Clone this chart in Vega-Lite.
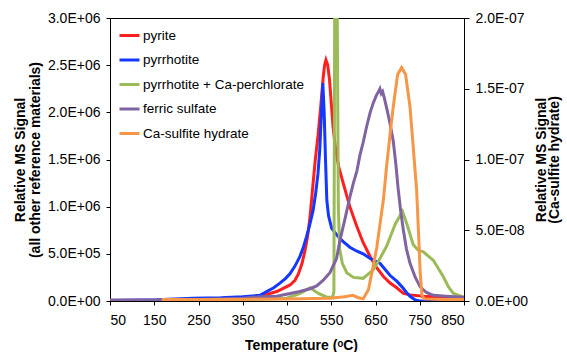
{
  "$schema": "https://vega.github.io/schema/vega-lite/v6.json",
  "width": 354,
  "height": 283,
  "autosize": {"type": "none"},
  "padding": {"left": 110, "top": 18, "right": 103, "bottom": 51},
  "background": "white",
  "config": {
    "view": {"stroke": "black", "strokeWidth": 1},
    "font": "Liberation Sans",
    "axis": {
      "domainColor": "black", "tickColor": "black", "labelColor": "black", "titleColor": "black",
      "labelFont": "Liberation Sans", "titleFont": "Liberation Sans",
      "labelFontSize": 14, "titleFontSize": 14, "titleFontWeight": "bold",
      "grid": false, "tickSize": 4, "domainWidth": 1, "tickWidth": 1
    },
    "legend": {"labelFont": "Liberation Sans", "labelFontSize": 13.5, "labelColor": "black", "labelLimit": 0}
  },
  "datasets": {
    "left": [
      {"series": "pyrite", "T": 50, "v": 0}, {"series": "pyrite", "T": 150, "v": 5000}, {"series": "pyrite", "T": 250, "v": 12000}, {"series": "pyrite", "T": 350, "v": 30000}, {"series": "pyrite", "T": 396, "v": 60000}, {"series": "pyrite", "T": 427, "v": 100000}, {"series": "pyrite", "T": 457, "v": 170000}, {"series": "pyrite", "T": 468, "v": 220000}, {"series": "pyrite", "T": 476, "v": 290000}, {"series": "pyrite", "T": 484, "v": 400000}, {"series": "pyrite", "T": 491, "v": 540000}, {"series": "pyrite", "T": 497, "v": 700000}, {"series": "pyrite", "T": 502, "v": 890000}, {"series": "pyrite", "T": 508, "v": 1200000}, {"series": "pyrite", "T": 514, "v": 1500000}, {"series": "pyrite", "T": 520, "v": 1750000}, {"series": "pyrite", "T": 526, "v": 2050000}, {"series": "pyrite", "T": 532, "v": 2380000}, {"series": "pyrite", "T": 535, "v": 2500000}, {"series": "pyrite", "T": 538, "v": 2555000}, {"series": "pyrite", "T": 542, "v": 2500000}, {"series": "pyrite", "T": 546, "v": 2350000}, {"series": "pyrite", "T": 550, "v": 2100000}, {"series": "pyrite", "T": 554, "v": 1850000}, {"series": "pyrite", "T": 560, "v": 1600000}, {"series": "pyrite", "T": 567, "v": 1420000}, {"series": "pyrite", "T": 577, "v": 1250000}, {"series": "pyrite", "T": 592, "v": 1000000}, {"series": "pyrite", "T": 607, "v": 800000}, {"series": "pyrite", "T": 622, "v": 620000}, {"series": "pyrite", "T": 638, "v": 470000}, {"series": "pyrite", "T": 653, "v": 350000}, {"series": "pyrite", "T": 668, "v": 260000}, {"series": "pyrite", "T": 683, "v": 190000}, {"series": "pyrite", "T": 698, "v": 140000}, {"series": "pyrite", "T": 713, "v": 80000}, {"series": "pyrite", "T": 728, "v": 65000}, {"series": "pyrite", "T": 758, "v": 50000}, {"series": "pyrite", "T": 800, "v": 40000}, {"series": "pyrite", "T": 850, "v": 30000},
      {"series": "pyrrhotite", "T": 50, "v": 5000}, {"series": "pyrrhotite", "T": 155, "v": 12000}, {"series": "pyrrhotite", "T": 238, "v": 30000}, {"series": "pyrrhotite", "T": 300, "v": 35000}, {"series": "pyrrhotite", "T": 350, "v": 45000}, {"series": "pyrrhotite", "T": 389, "v": 60000}, {"series": "pyrrhotite", "T": 404, "v": 100000}, {"series": "pyrrhotite", "T": 420, "v": 140000}, {"series": "pyrrhotite", "T": 434, "v": 190000}, {"series": "pyrrhotite", "T": 447, "v": 240000}, {"series": "pyrrhotite", "T": 457, "v": 290000}, {"series": "pyrrhotite", "T": 468, "v": 370000}, {"series": "pyrrhotite", "T": 479, "v": 470000}, {"series": "pyrrhotite", "T": 487, "v": 570000}, {"series": "pyrrhotite", "T": 494, "v": 680000}, {"series": "pyrrhotite", "T": 502, "v": 820000}, {"series": "pyrrhotite", "T": 509, "v": 960000}, {"series": "pyrrhotite", "T": 515, "v": 1150000}, {"series": "pyrrhotite", "T": 520, "v": 1350000}, {"series": "pyrrhotite", "T": 524, "v": 1600000}, {"series": "pyrrhotite", "T": 527, "v": 1920000}, {"series": "pyrrhotite", "T": 531, "v": 2310000}, {"series": "pyrrhotite", "T": 534, "v": 2000000}, {"series": "pyrrhotite", "T": 537, "v": 1500000}, {"series": "pyrrhotite", "T": 540, "v": 1070000}, {"series": "pyrrhotite", "T": 544, "v": 900000}, {"series": "pyrrhotite", "T": 551, "v": 770000}, {"series": "pyrrhotite", "T": 566, "v": 680000}, {"series": "pyrrhotite", "T": 577, "v": 630000}, {"series": "pyrrhotite", "T": 592, "v": 570000}, {"series": "pyrrhotite", "T": 607, "v": 530000}, {"series": "pyrrhotite", "T": 622, "v": 500000}, {"series": "pyrrhotite", "T": 638, "v": 450000}, {"series": "pyrrhotite", "T": 660, "v": 400000}, {"series": "pyrrhotite", "T": 683, "v": 270000}, {"series": "pyrrhotite", "T": 698, "v": 210000}, {"series": "pyrrhotite", "T": 710, "v": 150000}, {"series": "pyrrhotite", "T": 720, "v": 90000}, {"series": "pyrrhotite", "T": 728, "v": 50000}, {"series": "pyrrhotite", "T": 740, "v": 10000}, {"series": "pyrrhotite", "T": 750, "v": 0}, {"series": "pyrrhotite", "T": 850, "v": 0},
      {"series": "pyrrhotite + Ca-perchlorate", "T": 50, "v": 0}, {"series": "pyrrhotite + Ca-perchlorate", "T": 400, "v": 20000}, {"series": "pyrrhotite + Ca-perchlorate", "T": 449, "v": 30000}, {"series": "pyrrhotite + Ca-perchlorate", "T": 480, "v": 80000}, {"series": "pyrrhotite + Ca-perchlorate", "T": 502, "v": 140000}, {"series": "pyrrhotite + Ca-perchlorate", "T": 521, "v": 80000}, {"series": "pyrrhotite + Ca-perchlorate", "T": 540, "v": 40000}, {"series": "pyrrhotite + Ca-perchlorate", "T": 553, "v": 40000}, {"series": "pyrrhotite + Ca-perchlorate", "T": 556, "v": 100000}, {"series": "pyrrhotite + Ca-perchlorate", "T": 558, "v": 3500000}, {"series": "pyrrhotite + Ca-perchlorate", "T": 563, "v": 3500000}, {"series": "pyrrhotite + Ca-perchlorate", "T": 566, "v": 1000000}, {"series": "pyrrhotite + Ca-perchlorate", "T": 569, "v": 550000}, {"series": "pyrrhotite + Ca-perchlorate", "T": 575, "v": 400000}, {"series": "pyrrhotite + Ca-perchlorate", "T": 585, "v": 300000}, {"series": "pyrrhotite + Ca-perchlorate", "T": 600, "v": 250000}, {"series": "pyrrhotite + Ca-perchlorate", "T": 622, "v": 240000}, {"series": "pyrrhotite + Ca-perchlorate", "T": 645, "v": 330000}, {"series": "pyrrhotite + Ca-perchlorate", "T": 660, "v": 450000}, {"series": "pyrrhotite + Ca-perchlorate", "T": 675, "v": 580000}, {"series": "pyrrhotite + Ca-perchlorate", "T": 695, "v": 820000}, {"series": "pyrrhotite + Ca-perchlorate", "T": 711, "v": 950000}, {"series": "pyrrhotite + Ca-perchlorate", "T": 722, "v": 800000}, {"series": "pyrrhotite + Ca-perchlorate", "T": 735, "v": 600000}, {"series": "pyrrhotite + Ca-perchlorate", "T": 746, "v": 540000}, {"series": "pyrrhotite + Ca-perchlorate", "T": 758, "v": 520000}, {"series": "pyrrhotite + Ca-perchlorate", "T": 781, "v": 430000}, {"series": "pyrrhotite + Ca-perchlorate", "T": 803, "v": 260000}, {"series": "pyrrhotite + Ca-perchlorate", "T": 815, "v": 150000}, {"series": "pyrrhotite + Ca-perchlorate", "T": 826, "v": 80000}, {"series": "pyrrhotite + Ca-perchlorate", "T": 850, "v": 40000},
      {"series": "ferric sulfate", "T": 50, "v": 10000}, {"series": "ferric sulfate", "T": 150, "v": 10000}, {"series": "ferric sulfate", "T": 250, "v": 15000}, {"series": "ferric sulfate", "T": 350, "v": 30000}, {"series": "ferric sulfate", "T": 389, "v": 45000}, {"series": "ferric sulfate", "T": 427, "v": 50000}, {"series": "ferric sulfate", "T": 457, "v": 80000}, {"series": "ferric sulfate", "T": 479, "v": 100000}, {"series": "ferric sulfate", "T": 502, "v": 130000}, {"series": "ferric sulfate", "T": 517, "v": 160000}, {"series": "ferric sulfate", "T": 532, "v": 220000}, {"series": "ferric sulfate", "T": 547, "v": 300000}, {"series": "ferric sulfate", "T": 562, "v": 450000}, {"series": "ferric sulfate", "T": 570, "v": 650000}, {"series": "ferric sulfate", "T": 580, "v": 850000}, {"series": "ferric sulfate", "T": 592, "v": 1100000}, {"series": "ferric sulfate", "T": 600, "v": 1250000}, {"series": "ferric sulfate", "T": 608, "v": 1380000}, {"series": "ferric sulfate", "T": 615, "v": 1550000}, {"series": "ferric sulfate", "T": 622, "v": 1680000}, {"series": "ferric sulfate", "T": 630, "v": 1850000}, {"series": "ferric sulfate", "T": 638, "v": 2000000}, {"series": "ferric sulfate", "T": 645, "v": 2100000}, {"series": "ferric sulfate", "T": 652, "v": 2180000}, {"series": "ferric sulfate", "T": 657, "v": 2220000}, {"series": "ferric sulfate", "T": 660, "v": 2250000}, {"series": "ferric sulfate", "T": 663, "v": 2200000}, {"series": "ferric sulfate", "T": 666, "v": 2220000}, {"series": "ferric sulfate", "T": 670, "v": 2150000}, {"series": "ferric sulfate", "T": 675, "v": 2050000}, {"series": "ferric sulfate", "T": 682, "v": 1900000}, {"series": "ferric sulfate", "T": 690, "v": 1700000}, {"series": "ferric sulfate", "T": 696, "v": 1450000}, {"series": "ferric sulfate", "T": 701, "v": 1200000}, {"series": "ferric sulfate", "T": 707, "v": 950000}, {"series": "ferric sulfate", "T": 713, "v": 750000}, {"series": "ferric sulfate", "T": 720, "v": 550000}, {"series": "ferric sulfate", "T": 728, "v": 400000}, {"series": "ferric sulfate", "T": 740, "v": 250000}, {"series": "ferric sulfate", "T": 751, "v": 150000}, {"series": "ferric sulfate", "T": 765, "v": 90000}, {"series": "ferric sulfate", "T": 781, "v": 60000}, {"series": "ferric sulfate", "T": 810, "v": 50000}, {"series": "ferric sulfate", "T": 850, "v": 40000}
    ],
    "right": [
      {"series": "Ca-sulfite hydrate", "T": 167, "v": 1e-9}, {"series": "Ca-sulfite hydrate", "T": 300, "v": 1e-9}, {"series": "Ca-sulfite hydrate", "T": 450, "v": 1.5e-9}, {"series": "Ca-sulfite hydrate", "T": 547, "v": 2e-9}, {"series": "Ca-sulfite hydrate", "T": 580, "v": 3e-9}, {"series": "Ca-sulfite hydrate", "T": 599, "v": 4e-9}, {"series": "Ca-sulfite hydrate", "T": 610, "v": 2.5e-9}, {"series": "Ca-sulfite hydrate", "T": 622, "v": 1.5e-9}, {"series": "Ca-sulfite hydrate", "T": 634, "v": 8e-9}, {"series": "Ca-sulfite hydrate", "T": 645, "v": 2.5e-8}, {"series": "Ca-sulfite hydrate", "T": 653, "v": 3.8e-8}, {"series": "Ca-sulfite hydrate", "T": 668, "v": 7.2e-8}, {"series": "Ca-sulfite hydrate", "T": 675, "v": 9.5e-8}, {"series": "Ca-sulfite hydrate", "T": 683, "v": 1.18e-7}, {"series": "Ca-sulfite hydrate", "T": 690, "v": 1.37e-7}, {"series": "Ca-sulfite hydrate", "T": 700, "v": 1.6e-7}, {"series": "Ca-sulfite hydrate", "T": 709, "v": 1.65e-7}, {"series": "Ca-sulfite hydrate", "T": 718, "v": 1.6e-7}, {"series": "Ca-sulfite hydrate", "T": 728, "v": 1.37e-7}, {"series": "Ca-sulfite hydrate", "T": 735, "v": 1.1e-7}, {"series": "Ca-sulfite hydrate", "T": 743, "v": 7.8e-8}, {"series": "Ca-sulfite hydrate", "T": 747, "v": 5e-8}, {"series": "Ca-sulfite hydrate", "T": 751, "v": 2e-8}, {"series": "Ca-sulfite hydrate", "T": 755, "v": 4e-9}, {"series": "Ca-sulfite hydrate", "T": 760, "v": 1.5e-9}, {"series": "Ca-sulfite hydrate", "T": 800, "v": 1e-9}, {"series": "Ca-sulfite hydrate", "T": 850, "v": 1e-9}
    ]
  },
  "layer": [
    {
      "data": {"name": "left"},
      "mark": {"type": "line", "strokeWidth": 3, "clip": true},
      "encoding": {
        "x": {
          "field": "T", "type": "quantitative",
          "scale": {"domain": [50, 850], "nice": false, "zero": false},
          "axis": {
            "values": [50, 100, 150, 200, 250, 300, 350, 400, 450, 500, 550, 600, 650, 700, 750, 800, 850],
            "labelExpr": "(datum.value - 50) % 100 == 0 ? datum.label : ''",
            "labelPadding": 8,
            "title": "Temperature (ᵒC)",
            "titleX": 191, "titleY": 37, "titleAlign": "center", "titleBaseline": "top"
          }
        },
        "y": {
          "field": "v", "type": "quantitative",
          "scale": {"domain": [0, 3000000], "nice": false},
          "axis": {
            "values": [0, 500000, 1000000, 1500000, 2000000, 2500000, 3000000],
            "labelExpr": "datum.value == 0 ? '0.0E+00' : format(datum.value / pow(10, floor(log(datum.value) / LN10 + 1e-9)), '.1f') + 'E+0' + floor(log(datum.value) / LN10 + 1e-9)",
            "labelPadding": 6,
            "title": ["Relative MS Signal", "(all other reference materials)"],
            "titleLineHeight": 14.5,
            "titlePadding": 5
          }
        },
        "color": {
          "field": "series", "type": "nominal",
          "scale": {
            "domain": ["pyrite", "pyrrhotite", "pyrrhotite + Ca-perchlorate", "ferric sulfate", "Ca-sulfite hydrate"],
            "range": ["#FF1F1F", "#1438FF", "#9BBB59", "#8064A2", "#F79646"]
          },
          "legend": {
            "title": null, "orient": "none", "legendX": 8, "legendY": 6,
            "symbolType": "stroke", "symbolSize": 400, "symbolStrokeWidth": 3,
            "labelOffset": 2, "rowPadding": 6.5, "padding": 0, "labelLimit": 0
          }
        }
      }
    },
    {
      "data": {"name": "right"},
      "mark": {"type": "line", "strokeWidth": 3, "clip": true},
      "encoding": {
        "x": {"field": "T", "type": "quantitative"},
        "y": {
          "field": "v", "type": "quantitative",
          "scale": {"domain": [0, 2e-7], "nice": false},
          "axis": {
            "orient": "right",
            "values": [0, 5e-8, 1e-7, 1.5e-7, 2e-7],
            "labelExpr": "datum.value == 0 ? '0.0E+00' : format(datum.value / pow(10, floor(log(datum.value) / LN10 + 1e-9)), '.1f') + 'E-0' + (-floor(log(datum.value) / LN10 + 1e-9))",
            "tickSize": 5,
            "labelPadding": 6,
            "title": ["Relative MS Signal", "(Ca-sulfite hydrate)"],
            "titleAngle": 270,
            "titleLineHeight": 13,
            "titlePadding": 8
          }
        },
        "color": {"field": "series", "type": "nominal"}
      }
    }
  ],
  "resolve": {"scale": {"y": "independent"}}
}
